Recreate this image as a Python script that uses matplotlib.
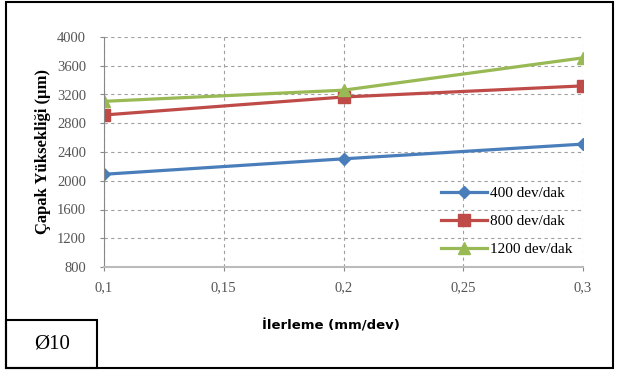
import matplotlib
matplotlib.use("Agg")
import matplotlib.pyplot as plt
from matplotlib.patches import Rectangle
from matplotlib.ticker import FuncFormatter

ilerleme = [0.1, 0.2, 0.3]
d400 = [2090, 2305, 2510]
d800 = [2915, 3165, 3320]
d1200 = [3105, 3260, 3710]
labels = ["400 dev/dak", "800 dev/dak", "1200 dev/dak"]
x_ticks = [0.1, 0.15, 0.2, 0.25, 0.3]
y_ticks = [800, 1200, 1600, 2000, 2400, 2800, 3200, 3600, 4000]

fig = plt.figure(figsize=(6.18, 3.71), dpi=100)
W, H = 618, 371

# outer frame and the small label box
fig.patches.append(Rectangle((6 / W, 3 / H), 607 / W, 366 / H, transform=fig.transFigure,
                             fill=False, edgecolor="black", linewidth=1.5))
fig.patches.append(Rectangle((6 / W, 3 / H), 91 / W, 48 / H, transform=fig.transFigure,
                             fill=False, edgecolor="black", linewidth=1.5))
fig.text(52 / W, 27 / H, "Ø10", ha="center", va="center", fontsize=15,
         family="Liberation Serif")

ax = fig.add_axes([104 / W, 1 - 267 / H, (583 - 104) / W, (267 - 37) / H])

ax.plot(ilerleme, d400, color="#4A7EBB", marker="D", markersize=6, linewidth=2.3, label=labels[0])
ax.plot(ilerleme, d800, color="#BE4B48", marker="s", markersize=8, linewidth=2.3, label=labels[1])
ax.plot(ilerleme, d1200, color="#98B954", marker="^", markersize=9, linewidth=2.3, label=labels[2])

ax.set_xlim(0.1, 0.3)
ax.set_ylim(800, 4000)
ax.set_xticks(x_ticks)
ax.set_yticks(y_ticks)
ax.xaxis.set_major_formatter(FuncFormatter(lambda v, p: ("%g" % v).replace(".", ",")))
ax.grid(True, linestyle=(0, (3, 3)), color="#a0a0a0", linewidth=0.8)
ax.set_axisbelow(True)

for s in ["top", "right"]:
    ax.spines[s].set_visible(False)
ax.spines["left"].set_color("#888888")
ax.spines["bottom"].set_color("#bbbbbb")
ax.spines["bottom"].set_linewidth(1.5)
ax.tick_params(colors="#888888", labelcolor="#555555", length=3, labelsize=10.5)
for t in ax.get_xticklabels() + ax.get_yticklabels():
    t.set_family("Liberation Serif")
ax.tick_params(axis="x", pad=7)
ax.tick_params(axis="y", pad=10)

ax.set_ylabel("Çapak Yüksekliği (µm)", family="Liberation Serif", fontweight="bold",
              fontsize=12, labelpad=4)
fig.text(331 / W, 1 - 326 / H, "İlerleme (mm/dev)", ha="center", va="center",
         fontsize=9.5, fontweight="bold", family="DejaVu Sans")

leg = ax.legend(loc="lower right", frameon=False, prop={"family": "Liberation Serif", "size": 11},
                handlelength=3, handletextpad=0.2, borderaxespad=0.3, labelspacing=0.95)

fig.savefig("out.png", dpi=100)
